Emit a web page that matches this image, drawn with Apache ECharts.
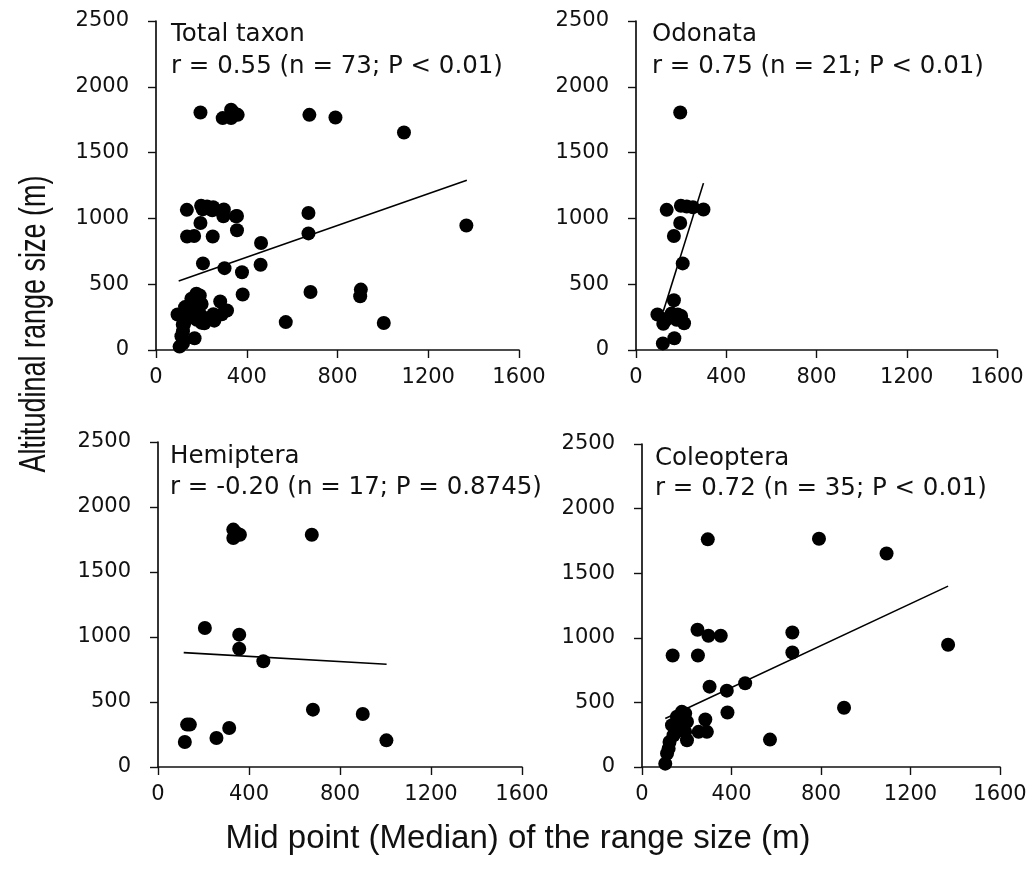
<!DOCTYPE html>
<html>
<head>
<meta charset="utf-8">
<script src="https://cdn.jsdelivr.net/npm/echarts@6/dist/echarts.min.js"></script>
<style>
  html, body { margin: 0; padding: 0; background: #fff; }
  #chart { width: 1031px; height: 879px; }
</style>
</head>
<body>
<div id="chart"></div>
<script>
// points: [mid point (m), altitudinal range (m)]
const odonata = [
  [196, 1805], [136, 1065], [199, 1096], [225, 1090], [252, 1085], [299, 1068],
  [196, 965], [168, 866], [207, 658], [168, 378], [95, 270], [121, 200],
  [158, 278], [140, 240], [180, 230], [200, 258], [213, 203], [119, 50],
  [170, 89], [130, 225], [185, 270]
];
const hemiptera = [
  [331, 1826], [331, 1762], [345, 1800], [360, 1787], [676, 1787],
  [206, 1069], [357, 1018], [357, 910], [463, 813],
  [681, 441], [900, 408], [1004, 205],
  [118, 192], [128, 326], [140, 326], [257, 223], [313, 300]
];
const coleoptera = [
  [294, 1762], [791, 1767], [1093, 1653], [1368, 946],
  [248, 1062], [297, 1016], [352, 1016], [672, 1041], [672, 886],
  [137, 863], [250, 863], [302, 622], [379, 591], [461, 648],
  [382, 422], [903, 459], [572, 212],
  [178, 427], [193, 415], [283, 368], [253, 272], [290, 272], [201, 207],
  [134, 324], [164, 350], [178, 311], [201, 350], [123, 194], [112, 104],
  [104, 26], [141, 246], [171, 285], [193, 272], [156, 389], [119, 142]
];
// total taxon is the three orders together (21 + 17 + 35 = 73)
const totalTaxon = [].concat(odonata, hemiptera, coleoptera);

// regression line end points
const totalFit = [[100, 525], [1370, 1290]];
const odonataFit = [[121, 295], [299, 1268]];
const hemipteraFit = [[113, 880], [1005, 790]];
const coleopteraFit = [[104, 375], [1368, 1400]];

const panelNames = ['Total taxon', 'Odonata', 'Hemiptera', 'Coleoptera'];
const panelStats = [
  'r = 0.55 (n = 73; P < 0.01)',
  'r = 0.75 (n = 21; P < 0.01)',
  'r = -0.20 (n = 17; P = 0.8745)',
  'r = 0.72 (n = 35; P < 0.01)'
];
const xTitle = 'Mid point (Median) of the range size (m)';
const yTitle = 'Altitudinal range size (m)';

const panelData = [totalTaxon, odonata, hemiptera, coleoptera];
const panelFits = [totalFit, odonataFit, hemipteraFit, coleopteraFit];

// plot boxes
const grids = [
  {left: 156, top: 21, width: 363, height: 329},
  {left: 636, top: 21, width: 361, height: 329},
  {left: 158, top: 442, width: 364, height: 325},
  {left: 642, top: 444, width: 358, height: 323}
];
// where the two lines of text sit in each panel
const notePos = [[171, 35, 67], [652, 35, 67], [170, 457, 488], [655, 459, 489]];

const axisLine = {lineStyle: {color: '#111', width: 1.7}};
const axisTick = {length: 8, lineStyle: {color: '#111', width: 1.4}};
const tickFont = {fontFamily: 'DejaVu Sans', fontSize: 21, color: '#111'};

const chart = echarts.init(document.getElementById('chart'), null, {renderer: 'canvas'});

const xAxes = [], yAxes = [], series = [], graphics = [];
grids.forEach(function (g, i) {
  xAxes.push({
    type: 'value', gridIndex: i, min: 0, max: 1600, interval: 400,
    axisLine: axisLine, axisTick: axisTick, splitLine: {show: false},
    axisLabel: Object.assign({margin: 17, formatter: v => String(v)}, tickFont)
  });
  yAxes.push({
    type: 'value', gridIndex: i, min: 0, max: 2500, interval: 500,
    axisLine: axisLine, axisTick: axisTick, splitLine: {show: false},
    axisLabel: Object.assign({margin: 27, padding: [7, 0, 0, 0], formatter: v => String(v)}, tickFont)
  });
  series.push({
    type: 'scatter', xAxisIndex: i, yAxisIndex: i,
    data: panelData[i], symbol: 'circle', symbolSize: 14,
    itemStyle: {color: '#000', opacity: 1}, silent: true
  });
  series.push({
    type: 'line', xAxisIndex: i, yAxisIndex: i,
    data: panelFits[i], symbol: 'none', z: 3,
    lineStyle: {color: '#000', width: 1.6}, silent: true
  });
  const p = notePos[i];
  graphics.push({
    type: 'text', x: p[0], y: p[1],
    style: {text: panelNames[i], font: '24.5px "DejaVu Sans"', fill: '#111', verticalAlign: 'middle'}
  });
  graphics.push({
    type: 'text', x: p[0], y: p[2],
    style: {text: panelStats[i], font: '24.5px "DejaVu Sans"', fill: '#111', verticalAlign: 'middle'}
  });
});

graphics.push({
  type: 'text', x: 518, y: 839,
  style: {text: xTitle, font: '33px "Liberation Sans"', fill: '#111', align: 'center', verticalAlign: 'middle'}
});
// the axis title in the figure is a narrow face: squeeze it along the text
graphics.push({
  type: 'text', x: 35, y: 324, rotation: Math.PI / 2, scaleX: 0.75,
  style: {text: yTitle, font: '36px "Liberation Sans"', fill: '#111', align: 'center', verticalAlign: 'middle'}
});

chart.setOption({
  animation: false,
  backgroundColor: '#fff',
  grid: grids,
  xAxis: xAxes,
  yAxis: yAxes,
  series: series,
  graphic: graphics
});
</script>
</body>
</html>
